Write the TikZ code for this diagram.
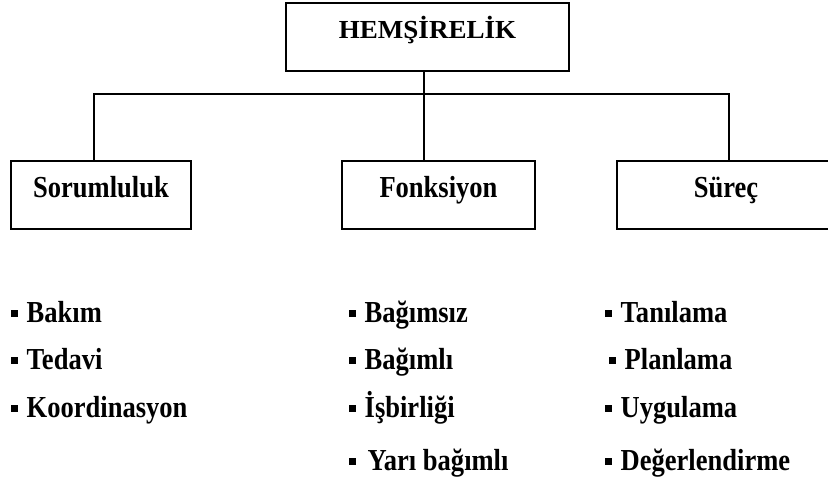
\documentclass[tikz,border=0pt]{standalone}
\usepackage{fontspec}
\setmainfont{Liberation Serif}
\newfontfamily\titlefont[FakeStretch=1.04]{Liberation Serif}
\newfontfamily\condfont[FakeStretch=0.87]{Liberation Serif}
\newcommand{\itembul}{\rule[6pt]{6.5pt}{6.5pt}\hspace{9pt}}
\begin{document}
\begin{tikzpicture}[x=1pt,y=-1pt,
  conn/.style={line width=1.6pt},
  titlebox/.style={draw,line width=1.6pt,inner xsep=0pt,inner ysep=0pt,
    minimum width=283pt,text height=36pt,text depth=32pt,
    font=\titlefont\fontsize{26}{30}\selectfont\bfseries},
  catbox/.style={draw,line width=1.6pt,inner xsep=0pt,inner ysep=0pt,
    text height=37pt,text depth=31pt,
    font=\condfont\fontsize{30.5}{34}\selectfont\bfseries},
  listitem/.style={anchor=base west,inner sep=0pt,
    font=\condfont\fontsize{30.5}{34}\selectfont\bfseries}]
\useasboundingbox (0,0) rectangle (828,478);
% boxes
\node[titlebox] (top) at (427.5,37) {HEMŞİRELİK};
\node[catbox,minimum width=180pt] (sor) at (101,195) {Sorumluluk};
\node[catbox,minimum width=193pt] (fon) at (438.5,195) {Fonksiyon};
\node[catbox,minimum width=218pt] (sur) at (726,195) {Süreç};
% bus coordinates
\coordinate (busL) at (94,94);
\coordinate (busC) at (424,94);
\coordinate (busR) at (729,94);
\draw[conn] (sor.north -| busL) -- (busL) -- (busR) -- (sur.north -| busR);
\draw[conn] (top.south -| busC) -- (fon.north -| busC);
% lists
\node[listitem] (b1) at (11,323) {\itembul Bakım};
\node[listitem] (b2) at (11,370) {\itembul Tedavi};
\node[listitem] (b3) at (11,418) {\itembul Koordinasyon};
\node[listitem] (f1) at (349,323) {\itembul Bağımsız};
\node[listitem] (f2) at (349,370) {\itembul Bağımlı};
\node[listitem] (f3) at (349,418) {\itembul İşbirliği};
\node[listitem] (f4) at (349,471) {\itembul\hspace{3pt}Yarı bağımlı};
\node[listitem] (s1) at (605,323) {\itembul Tanılama};
\node[listitem] (s2) at (609,370) {\itembul Planlama};
\node[listitem] (s3) at (605,418) {\itembul Uygulama};
\node[listitem] (s4) at (605,471) {\itembul Değerlendirme};
\end{tikzpicture}
\end{document}
